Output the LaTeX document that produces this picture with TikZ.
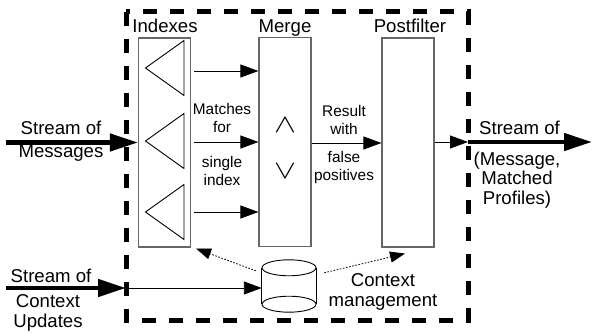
\documentclass[tikz,border=0pt]{standalone}
\usepackage{fontspec}
\setmainfont{Liberation Sans}
\usetikzlibrary{arrows.meta}

\begin{document}
\begin{tikzpicture}[x=1pt, y=-1pt,
    every node/.style={inner sep=0pt, font=\fontsize{18.6}{19.5}\selectfont},
    blk/.style={draw=black!60, line width=1.1pt, minimum width=52pt, minimum height=209pt},
    sml/.style={font=\fontsize{15.4}{17.5}\selectfont, align=center},
    arr/.style={-{Triangle[length=18pt,width=13pt]}, line width=0.9pt},
    fatarr/.style={-{Triangle[length=28pt,width=17pt]}, line width=4.5pt},
    ctxarr/.style={-{Triangle[length=15pt,width=11pt]}, line width=0.8pt, dash pattern=on 1.6pt off 1.6pt},
    fence/.style={line width=5pt, dash pattern=on 14pt off 13pt}]

    \useasboundingbox (0,0) rectangle (592,334);

    % dashed boundary
    \draw[fence] (126,12) rectangle (468,320);

    % nodes
    \node[blk] (idx) at (164.5,142.5) {};
    \node[blk] (mrg) at (285,142) {};
    \node[blk] (pf) at (408,142.5) {};
    \node[anchor=base] (idxlbl) at (165,33) {Indexes};
    \node[anchor=base] (mrglbl) at (285,33) {Merge};
    \node[anchor=base] (pflbl) at (410,33) {Postfilter};
    \node[font=\normalsize, xscale=3.3, yscale=2.6] (andop) at (285,125) {$\wedge$};
    \node[font=\normalsize, xscale=3.3, yscale=2.6] (orop) at (285,171) {$\vee$};
    \node[minimum width=54pt, minimum height=52pt] (ctx) at (289,286) {};

    % index triangles
    \foreach \y in {68,141,212}
        \draw[line width=0.9pt] (184,\y-27.5) -- (145.5,\y) -- (184,\y+27.5) -- cycle;

    % context store
    \draw[line width=0.9pt] ([yshift=-8pt]ctx.north) ellipse [x radius=27pt, y radius=8pt];
    \draw[line width=0.9pt] ([yshift=8pt]ctx.south) ellipse [x radius=27pt, y radius=8pt];
    \draw[line width=0.9pt] ([yshift=-8pt]ctx.north west) -- ([yshift=8pt]ctx.south west);
    \draw[line width=0.9pt] ([yshift=-8pt]ctx.north east) -- ([yshift=8pt]ctx.south east);

    % in and out streams
    \coordinate (msgin) at (6,142.5);
    \coordinate (updin) at (6,288);
    \coordinate (updgate) at (126,288);
    \coordinate (outgate) at (468,142);
    \coordinate (outend) at (592,142);
    \draw[fatarr] (msgin) -- (idx.west);
    \draw[fatarr] (updin) -- (updgate);
    \draw[arr] (updgate) -- (ctx.west |- updgate);
    \draw[arr] (pf.east |- outgate) -- (outgate);
    \draw[fatarr] (outgate) -- (outend);

    % matches and results
    \foreach \y in {71,142,212}
        \draw[arr, shorten <=3pt] (idx.east |- 0,\y) -- (mrg.west |- 0,\y);
    \draw[arr] (mrg.east |- 0,143) -- (pf.west |- 0,143);

    % context management
    \draw[ctxarr] ([xshift=-6pt,yshift=-11pt]ctx.north west) -- ([xshift=5pt,yshift=-1pt]idx.south east);
    \draw[ctxarr] ([xshift=8pt,yshift=-13pt]ctx.north east) -- ([xshift=-3pt,yshift=-6pt]pf.south);

    % labels
    \node (msglbl) at (61,128) {Stream of};
    \node (msglbl2) at (61,153) {Messages};
    \node (updlbl) at (51,276) {Stream of};
    \node[align=center] (updlbl2) at (48,313) {Context\\Updates};
    \node (outlbl) at (519.5,128) {Stream of};
    \node[align=center] (outlbl2) at (517,180) {(Message,\\Matched\\Profiles)};
    \node[align=center] (ctxlbl) at (383,292) {Context\\management};
    \node[sml] (matchlbl) at (222,118) {Matches\\for};
    \node[sml] (matchlbl2) at (222,171) {single\\index};
    \node[sml] (reslbl) at (344,120) {Result\\with};
    \node[sml] (reslbl2) at (344,167.5) {false\\positives};
\end{tikzpicture}
\end{document}
